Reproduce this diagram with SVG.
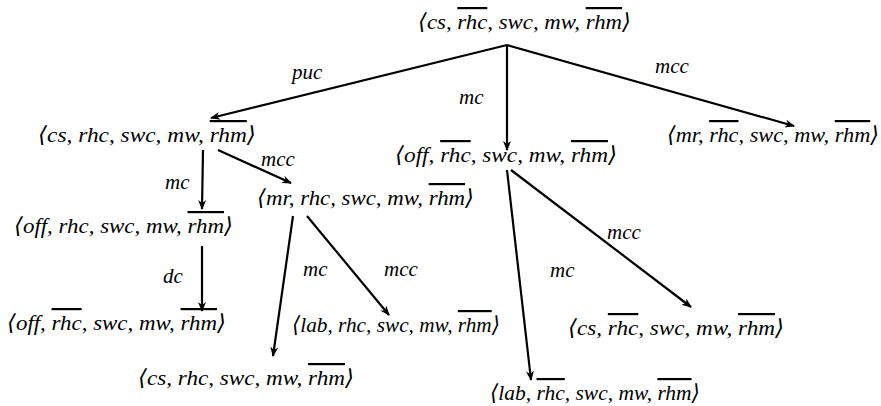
<svg xmlns="http://www.w3.org/2000/svg" width="881" height="406" viewBox="0 0 881 406">
<defs>
<marker id="ah" viewBox="0 0 10 8" refX="9" refY="4" markerWidth="10" markerHeight="8" markerUnits="userSpaceOnUse" orient="auto">
<path d="M0,0 L10,4 L0,8 L3,4 Z" fill="#000"/>
</marker>
<style>
text{font-family:"Liberation Serif","DejaVu Serif",serif;font-style:italic;font-size:22px;fill:#000}
.ov{text-decoration:overline}
.e{stroke:#000;stroke-width:2.2;fill:none;marker-end:url(#ah)}
.lbl{font-size:21px}
</style>
</defs>
<g id="connectors">
<line class="e" x1="507" y1="45" x2="211" y2="118"/>
<line class="e" x1="507" y1="45" x2="507" y2="150"/>
<line class="e" x1="507" y1="45" x2="794" y2="126"/>
<line class="e" x1="203" y1="150" x2="202" y2="209"/>
<line class="e" x1="218" y1="150" x2="291" y2="183"/>
<line class="e" x1="202" y1="246" x2="202" y2="311"/>
<line class="e" x1="293" y1="216" x2="273" y2="356"/>
<line class="e" x1="307" y1="216" x2="389" y2="315"/>
<line class="e" x1="507" y1="170" x2="531" y2="380"/>
<line class="e" x1="511" y1="170" x2="691" y2="307"/>
<text class="lbl" x="292" y="79">puc</text>
<text class="lbl" x="459" y="104">mc</text>
<text class="lbl" x="655" y="73">mcc</text>
<text class="lbl" x="261" y="166">mcc</text>
<text class="lbl" x="165" y="189">mc</text>
<text class="lbl" x="163" y="283">dc</text>
<text class="lbl" x="303" y="276">mc</text>
<text class="lbl" x="384" y="276">mcc</text>
<text class="lbl" x="607" y="239">mcc</text>
<text class="lbl" x="550" y="277">mc</text>
</g>
<g id="n0"><text x="418" y="29" textLength="213" lengthAdjust="spacingAndGlyphs">⟨cs, <tspan class="ov">rhc</tspan>, swc, mw, <tspan class="ov">rhm</tspan>⟩</text></g>
<g id="n1"><text x="38" y="142" textLength="218" lengthAdjust="spacingAndGlyphs">⟨cs, rhc, swc, mw, <tspan class="ov">rhm</tspan>⟩</text></g>
<g id="n2"><text x="395" y="162" textLength="222" lengthAdjust="spacingAndGlyphs">⟨off, <tspan class="ov">rhc</tspan>, swc, mw, <tspan class="ov">rhm</tspan>⟩</text></g>
<g id="n3"><text x="667" y="142" textLength="212" lengthAdjust="spacingAndGlyphs">⟨mr, <tspan class="ov">rhc</tspan>, swc, mw, <tspan class="ov">rhm</tspan>⟩</text></g>
<g id="n4"><text x="14" y="233" textLength="219" lengthAdjust="spacingAndGlyphs">⟨off, rhc, swc, mw, <tspan class="ov">rhm</tspan>⟩</text></g>
<g id="n5"><text x="7" y="330" textLength="219" lengthAdjust="spacingAndGlyphs">⟨off, <tspan class="ov">rhc</tspan>, swc, mw, <tspan class="ov">rhm</tspan>⟩</text></g>
<g id="n6"><text x="257" y="205" textLength="217" lengthAdjust="spacingAndGlyphs">⟨mr, rhc, swc, mw, <tspan class="ov">rhm</tspan>⟩</text></g>
<g id="n7"><text x="292" y="332" textLength="208" lengthAdjust="spacingAndGlyphs">⟨lab, rhc, swc, mw, <tspan class="ov">rhm</tspan>⟩</text></g>
<g id="n8"><text x="138" y="385" textLength="216" lengthAdjust="spacingAndGlyphs">⟨cs, rhc, swc, mw, <tspan class="ov">rhm</tspan>⟩</text></g>
<g id="n9"><text x="490" y="400" textLength="210" lengthAdjust="spacingAndGlyphs">⟨lab, <tspan class="ov">rhc</tspan>, swc, mw, <tspan class="ov">rhm</tspan>⟩</text></g>
<g id="n10"><text x="568" y="335" textLength="216" lengthAdjust="spacingAndGlyphs">⟨cs, <tspan class="ov">rhc</tspan>, swc, mw, <tspan class="ov">rhm</tspan>⟩</text></g>
</svg>
